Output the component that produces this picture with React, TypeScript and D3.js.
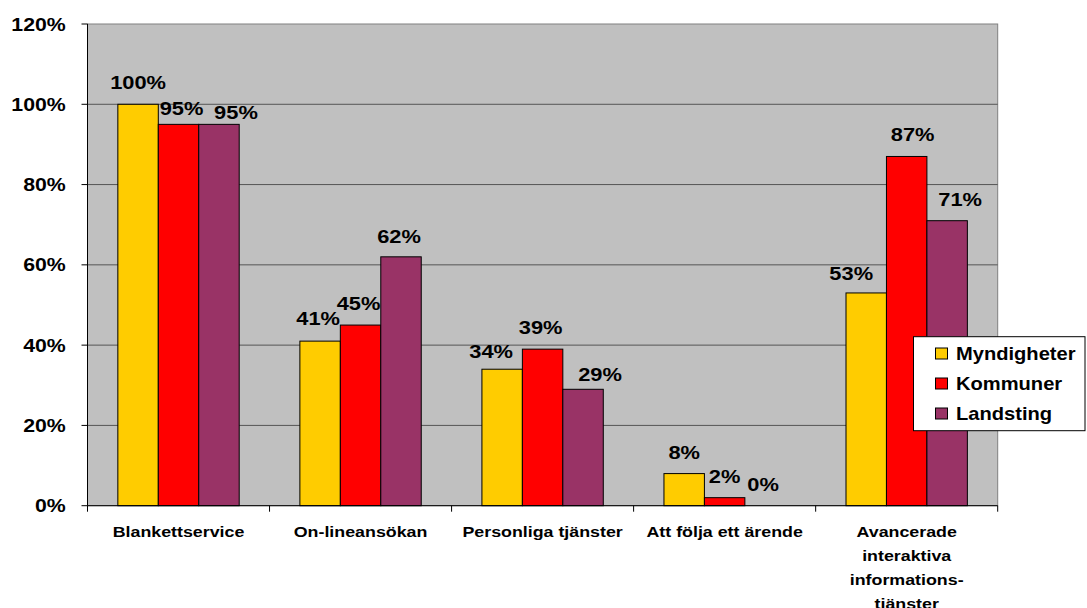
import React from "react";
import * as d3 from "d3";

const categories: string[][] = [
  ["Blankettservice"],
  ["On-lineansökan"],
  ["Personliga tjänster"],
  ["Att följa ett ärende"],
  ["Avancerade", "interaktiva", "informations-", "tjänster"],
];
const seriesNames = ["Myndigheter", "Kommuner", "Landsting"];
const myndigheter = [100, 41, 34, 8, 53];
const kommuner = [95, 45, 39, 2, 87];
const landsting = [95, 62, 29, 0, 71];
const yTicks = [0, 20, 40, 60, 80, 100, 120];

// label nudges (dx, dy) to mimic the original label placement
const labelNudges: [number, number][][] = [
  [[0, 0], [-2, -1], [-11, 4], [0, 0], [-15, 2]],
  [[3, 6], [-2, 0], [-2, 0], [0, 0], [6, 0]],
  [[17, 9.6], [-2, 1], [17, 7], [-2, 0], [13, 0]],
];

const colors = ["#FFCC00", "#FF0000", "#993366"];
const FONT = "'Liberation Sans', Arial, sans-serif";
const SX = 1.15;

export default function App() {
  const W = 1087, H = 608;
  const left = 87.5, right = 997.7, top = 24, bottom = 505.7;
  const series = [myndigheter, kommuner, landsting];
  const catKeys = categories.map((c) => c.join(" "));
  const x0 = d3.scaleBand<string>().domain(catKeys).range([left, right]).padding(0);
  const bw = x0.bandwidth();
  const barW = bw / 4.5;
  const x1 = d3
    .scaleBand<string>()
    .domain(seriesNames)
    .range([barW * 0.75, barW * 3.75])
    .padding(0);
  const y = d3.scaleLinear().domain([0, 120]).range([bottom, top]);

  const sText = (
    x: number,
    yy: number,
    txt: string,
    size: number,
    anchor: string,
    key?: string | number
  ) => (
    <text
      key={key}
      transform={`translate(${x},${yy}) scale(${SX},1)`}
      textAnchor={anchor as any}
      fontFamily={FONT}
      fontWeight="bold"
      fontSize={size}
      fill="#000"
    >
      {txt}
    </text>
  );

  return (
    <svg
      width={W}
      height={H}
      style={{ position: "absolute", left: 0, top: 0, background: "#fff" }}
    >
      <rect x={left} y={top} width={right - left} height={bottom - top} fill="#C0C0C0" stroke="#808080" strokeWidth={1} />
      {yTicks
        .filter((t) => t > 0 && t < 120)
        .map((t) => (
          <line key={t} x1={left} x2={right} y1={y(t)} y2={y(t)} stroke="#555" strokeWidth={1} />
        ))}
      {series.map((vals, si) =>
        vals.map((v, ci) => (
          <rect
            key={`b${si}-${ci}`}
            x={x0(catKeys[ci])! + x1(seriesNames[si])!}
            y={y(v)}
            width={x1.bandwidth()}
            height={bottom - y(v)}
            fill={colors[si]}
            stroke="#000"
            strokeWidth={1}
          />
        ))
      )}
      {/* axes */}
      <line x1={left} x2={left} y1={top} y2={bottom} stroke="#000" strokeWidth={1} />
      <line x1={left} x2={right} y1={bottom} y2={bottom} stroke="#000" strokeWidth={1} />
      {yTicks.map((t) => (
        <g key={`yt${t}`}>
          <line x1={left - 6} x2={left} y1={y(t)} y2={y(t)} stroke="#000" />
          {sText(65.7, y(t) + 6.5, `${t}%`, 18.5, "end")}
        </g>
      ))}
      {catKeys.map((k, i) => (
        <line key={`xt${i}`} x1={x0(k)!} x2={x0(k)!} y1={bottom} y2={bottom + 6} stroke="#000" />
      ))}
      <line x1={right} x2={right} y1={bottom} y2={bottom + 6} stroke="#000" />
      {categories.map((lines, i) =>
        lines.map((ln, li) =>
          sText(x0(catKeys[i])! + bw / 2, 536.7 + li * 24, ln, 15.5, "middle", `c${i}-${li}`)
        )
      )}
      {/* data labels */}
      {series.map((vals, si) =>
        vals.map((v, ci) => {
          const [dx, dy] = labelNudges[si][ci];
          const cx = x0(catKeys[ci])! + x1(seriesNames[si])! + x1.bandwidth() / 2;
          return sText(cx + dx, y(v) - 15 + dy, `${v}%`, 19, "middle", `l${si}-${ci}`);
        })
      )}
      {/* legend */}
      <rect x={913.5} y={336.7} width={171.5} height={94} fill="#fff" stroke="#000" strokeWidth={1} />
      {seriesNames.map((n, i) => (
        <g key={`lg${i}`}>
          <rect x={935.5} y={348 + i * 30} width={12} height={11} fill={colors[i]} stroke="#000" strokeWidth={1} />
          {sText(956, 360 + i * 30, n, 17.5, "start")}
        </g>
      ))}
    </svg>
  );
}
